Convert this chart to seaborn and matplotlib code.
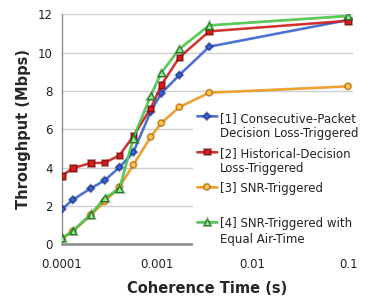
import pandas as pd
import matplotlib
matplotlib.use("Agg")
import matplotlib.pyplot as plt
import matplotlib.patheffects as pe
import seaborn as sns

sns.set_theme(style="white")
plt.rcParams["font.family"] = ["DejaVu Sans"]

# ------------------------------------------------------------------
# data
# ------------------------------------------------------------------
coherence_time = [0.0001, 0.00013, 0.0002, 0.00028, 0.0004, 0.00056, 0.00085, 0.0011, 0.0017, 0.0035, 0.1]

consecutive_packet = [1.84, 2.33, 2.92, 3.34, 4.02, 4.81, 6.92, 7.88, 8.83, 10.31, 11.70]
historical_decision = [3.58, 3.98, 4.24, 4.26, 4.64, 5.65, 7.09, 8.31, 9.75, 11.11, 11.66]
snr_triggered = [0.31, 0.69, 1.53, 2.24, 2.99, 4.15, 5.60, 6.33, 7.16, 7.91, 8.24]
snr_equal_airtime = [0.33, 0.71, 1.56, 2.42, 2.90, 5.53, 7.75, 8.95, 10.19, 11.42, 11.91]

labels = [
    "[1] Consecutive-Packet\nDecision Loss-Triggered",
    "[2] Historical-Decision\nLoss-Triggered",
    "[3] SNR-Triggered\n ",
    "[4] SNR-Triggered with\nEqual Air-Time",
]
series = [consecutive_packet, historical_decision, snr_triggered, snr_equal_airtime]

# line colour, marker, marker face, dark edge, marker size
styles = [
    ("#3F6FE0", "D", "#3565D8", "#1A2F80", 3.2),
    ("#E02424", "s", "#D81A1A", "#7A1010", 4.0),
    ("#F5A020", "o", "#FFC850", "#B86A08", 4.0),
    ("#4CD44C", "^", "#8EEA8E", "#1E6A1E", 4.6),
]

fig, ax = plt.subplots(figsize=(3.67, 2.97), dpi=100)
fig.subplots_adjust(left=0.169, right=0.962, bottom=0.177, top=0.952)

for values, label, (col, mk, face, edge, ms) in zip(series, labels, styles):
    df = pd.DataFrame({"t": coherence_time, "thr": values})
    sns.lineplot(data=df, x="t", y="thr", ax=ax, color=col, linewidth=1.3,
                 marker=mk, markersize=ms, markerfacecolor=face,
                 markeredgecolor=edge, markeredgewidth=0.6, label=label,
                 path_effects=[pe.Stroke(linewidth=2.0, foreground=edge, alpha=0.5), pe.Normal()],
                 zorder=3)

ax.set_xscale("log")
ax.set_xlim(0.0001, 0.1128)
ax.set_ylim(0, 12)
ax.set_xticks([0.0001, 0.001, 0.01, 0.1])
ax.set_xticklabels(["0.0001", "0.001", "0.01", "0.1"])
ax.minorticks_off()
ax.set_yticks(range(0, 13, 2))

ax.grid(axis="y", color="#CFCFCF", linewidth=1.0)
ax.set_axisbelow(True)
for side in ["top", "right"]:
    ax.spines[side].set_visible(False)
ax.spines["left"].set_color("#8C8C8C")
ax.spines["left"].set_linewidth(1.0)
ax.spines["bottom"].set_color("#8C8C8C")
ax.spines["bottom"].set_linewidth(1.8)

ax.tick_params(axis="y", length=3.5, width=0.8, color="#8C8C8C", pad=3, labelsize=8.5, labelcolor="#222222")
ax.tick_params(axis="x", length=0, pad=10, labelsize=8.5, labelcolor="#222222")

ax.set_xlabel("Coherence Time (s)", fontsize=10.5, fontweight="bold", labelpad=7)
ax.set_ylabel("Throughput (Mbps)", fontsize=10.5, fontweight="bold", labelpad=5)

leg = ax.legend(loc="upper left", bbox_to_anchor=(193 / 367, 1 - 108 / 297),
                bbox_transform=fig.transFigure, fontsize=8.5, frameon=True,
                handlelength=1.75, handleheight=1.0, handletextpad=0.2,
                labelspacing=0.62, borderpad=0.3, borderaxespad=0)
leg.get_frame().set_facecolor("white")
leg.get_frame().set_edgecolor("none")
leg.get_frame().set_alpha(1.0)
leg.set_zorder(5)
for txt in leg.get_texts():
    txt.set_linespacing(1.2)
    txt.set_color("#222222")
# keep each handle level with the first line of its label
for col in leg._legend_handle_box.get_children():
    for item in col.get_children():
        item.align = "top"

fig.savefig("out.png", dpi=100)
